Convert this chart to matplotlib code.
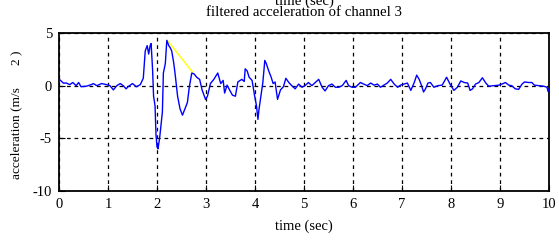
import matplotlib
matplotlib.use("Agg")
import matplotlib.pyplot as plt

plt.rcParams['font.family'] = ['Liberation Serif', 'DejaVu Serif']
plt.rcParams['axes.unicode_minus'] = False

time_s = [0.00, 0.02, 0.09, 0.15, 0.22, 0.28, 0.35, 0.40, 0.45, 0.56, 0.66, 0.70, 0.77, 0.87, 0.97,
          1.04, 1.11, 1.18, 1.25, 1.31, 1.37, 1.41, 1.50, 1.58, 1.66, 1.72, 1.76, 1.80, 1.83, 1.86,
          1.88, 1.91, 1.93, 1.96, 1.98, 2.00, 2.02, 2.04, 2.06, 2.11, 2.13, 2.17, 2.20, 2.24, 2.27,
          2.30, 2.34, 2.37, 2.42, 2.47, 2.52, 2.57, 2.62, 2.66, 2.71, 2.76, 2.81, 2.87, 2.92, 2.99,
          3.03, 3.09, 3.16, 3.24, 3.30, 3.35, 3.38, 3.43, 3.48, 3.54, 3.60, 3.65, 3.73, 3.78, 3.80,
          3.84, 3.88, 3.94, 3.99, 4.03, 4.06, 4.08, 4.12, 4.16, 4.20, 4.23, 4.28, 4.33, 4.37, 4.41,
          4.46, 4.52, 4.58, 4.63, 4.69, 4.75, 4.82, 4.89, 4.96, 5.02, 5.09, 5.16, 5.23, 5.30, 5.37,
          5.43, 5.50, 5.57, 5.64, 5.71, 5.78, 5.86, 5.91, 5.98, 6.05, 6.15, 6.22, 6.29, 6.36, 6.43,
          6.50, 6.56, 6.63, 6.70, 6.77, 6.84, 6.91, 6.97, 7.04, 7.11, 7.18, 7.25, 7.30, 7.35, 7.40,
          7.44, 7.48, 7.53, 7.58, 7.65, 7.73, 7.82, 7.91, 7.98, 8.06, 8.13, 8.20, 8.27, 8.34, 8.39,
          8.44, 8.50, 8.57, 8.64, 8.71, 8.77, 8.87, 8.98, 9.04, 9.11, 9.18, 9.24, 9.31, 9.38, 9.45,
          9.50, 9.59, 9.65, 9.70, 9.79, 9.89, 9.96, 9.98, 10.00]
accel = [0.40, 0.55, 0.24, 0.25, 0.10, 0.30, 0.00, 0.30, -0.10, -0.05, 0.10, 0.20, 0.00, 0.20, 0.10,
         0.00, -0.40, 0.00, 0.20, 0.00, -0.30, -0.10, 0.20, -0.10, 0.10, 0.70, 3.30, 3.80, 3.00, 3.80,
         4.00, 1.50, -1.00, -1.90, -4.70, -5.80, -6.00, -5.40, -4.70, -2.50, 1.20, 2.10, 4.30, 3.80, 3.60,
         3.30, 2.20, 1.10, -1.00, -2.20, -2.80, -2.20, -1.60, -0.10, 1.20, 1.10, 0.80, 0.60, -0.40, -1.30,
         -1.00, 0.20, 0.60, 1.20, 0.20, 0.50, -0.70, 0.05, -0.40, -0.90, -1.00, 0.35, 0.60, 0.40, 1.60,
         1.40, 0.80, 0.50, -0.90, -1.90, -3.20, -2.30, -1.00, 0.30, 2.40, 2.10, 1.40, 0.80, 0.20, 0.35,
         -1.30, -0.40, -0.10, 0.70, 0.30, 0.00, -0.30, 0.15, -0.15, 0.00, 0.30, 0.00, 0.30, 0.60, -0.15,
         -0.50, 0.00, 0.15, -0.15, -0.15, 0.00, 0.50, 0.00, -0.15, -0.15, 0.30, 0.15, 0.00, 0.25, 0.05,
         0.15, -0.15, 0.05, 0.25, 0.60, 0.15, -0.15, 0.05, 0.15, 0.25, -0.45, 0.30, 1.00, 0.60, 0.00,
         -0.60, -0.30, 0.25, 0.30, -0.15, 0.00, 0.05, 0.80, 0.15, -0.45, -0.15, 0.45, 0.30, 0.25, -0.45,
         -0.30, 0.15, 0.30, 0.75, 0.25, -0.05, 0.00, 0.05, 0.15, 0.30, 0.05, 0.00, -0.30, -0.35, 0.15,
         0.35, 0.30, 0.30, 0.05, 0.00, -0.05, -0.15, -0.55, -0.30]

yellow_t = [2.21, 2.74]
yellow_a = [4.30, 1.20]

xticks = [0, 1, 2, 3, 4, 5, 6, 7, 8, 9, 10]
yticks = [-10, -5, 0, 5]

fig = plt.figure(figsize=(5.59, 2.40), dpi=100)
ax = fig.add_axes([59/559, 1-191/240, (549-59)/559, (191-33)/240])

ax.plot(time_s, accel, color='#0000ff', lw=1.0, zorder=3)
ax.plot(yellow_t, yellow_a, color='#ffff00', lw=1.0, zorder=2)

ax.set_xlim(0, 10)
ax.set_ylim(-10, 5)
ax.set_xticks(xticks)
ax.set_yticks(yticks)
ax.grid(True, color='black', linestyle=(0, (3, 3)), linewidth=0.9)
ax.tick_params(direction='in', length=4, width=0.8, labelsize=10.5, colors='black', pad=5)
for s in ax.spines.values():
    s.set_linewidth(1.3)

ax.set_xlabel('time (sec)', fontsize=10.5, labelpad=6)
fig.text(16/559, 1-133/240, 'acceleration (m/s', rotation=90, fontsize=9.6,
         ha='center', va='center')
fig.text(17/559, 1-58/240, '2 )', rotation=90, fontsize=9.6, ha='center', va='center')
fig.text(304/559, 1-13/240, 'filtered acceleration of channel 3', fontsize=10.7,
         ha='center', va='center')
fig.text(304/559, 1-1/240, 'time (sec)', fontsize=10.7, ha='center', va='center')

fig.savefig('out.png', dpi=100)
